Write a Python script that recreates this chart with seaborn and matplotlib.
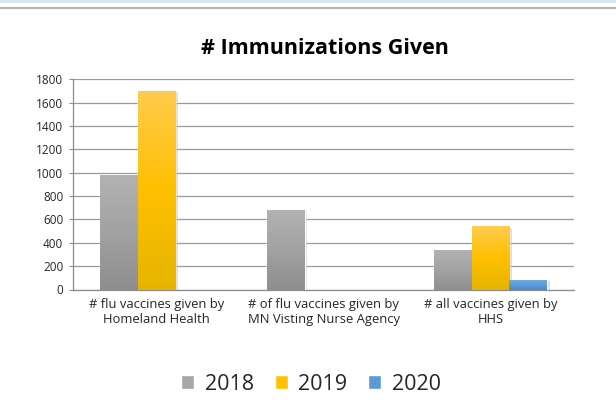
import numpy as np
import pandas as pd
import matplotlib
matplotlib.use("Agg")
import matplotlib.pyplot as plt
import matplotlib.patheffects as pe
from matplotlib.colors import LinearSegmentedColormap
import seaborn as sns

# Chart data
categories = [
    "# flu vaccines given by\nHomeland Health",
    "# of flu vaccines given by\nMN Visting Nurse Agency",
    "# all vaccines given by\nHHS",
]
years = ["2018", "2019", "2020"]
values_2018 = [980, 680, 335]
values_2019 = [1700, np.nan, 540]
values_2020 = [np.nan, np.nan, 85]
y_ticks = [0, 200, 400, 600, 800, 1000, 1200, 1400, 1600, 1800]

df = pd.DataFrame({
    "category": categories * 3,
    "year": [y for y in years for _ in categories],
    "count": values_2018 + values_2019 + values_2020,
})

# Flat colours (legend) and vertical gradients (bars), top -> bottom
flat = {"2018": "#a6a6a6", "2019": "#ffc000", "2020": "#5b9bd5"}
grads = {
    "2018": ["#b2b2b2", "#a2a2a2", "#8e8e8e"],
    "2019": ["#ffcb4c", "#ffc000", "#e6b400"],
    "2020": ["#72aae0", "#5b9bd5", "#4a88c8"],
}

sns.set_theme(style="white")
font = ["Open Sans", "DejaVu Sans"]
plt.rcParams["font.family"] = font

fig = plt.figure(figsize=(6.16, 4.16), dpi=100)
fig.patch.set_facecolor("white")

# Header strip along the top edge
fig.add_artist(plt.Rectangle((0, 1 - 3 / 416), 1, 3 / 416, transform=fig.transFigure,
                             color="#dce6f2", lw=0))
fig.add_artist(plt.Line2D([0, 1], [1 - 7.8 / 416] * 2, transform=fig.transFigure,
                          color="#b4b4b4", lw=1.6))

ax = fig.add_axes([73 / 616, 1 - 289.5 / 416, 501 / 616, 210.2 / 416])
sns.barplot(data=df, x="category", y="count", hue="year", hue_order=years,
            order=categories, palette=flat, width=0.675, gap=0, errorbar=None,
            saturation=1, ax=ax, legend=True, zorder=3)

# Paint each bar with its gradient, clipped to the bar shape
for container, yr in zip(ax.containers, years):
    cmap = LinearSegmentedColormap.from_list(yr, grads[yr])
    for bar in container:
        h = bar.get_height()
        if not np.isfinite(h) or h <= 0:
            continue
        x0 = bar.get_x()
        w = bar.get_width()
        bar.set_path_effects([pe.SimplePatchShadow(offset=(2, -1), shadow_rgbFace="#c8c8c8", alpha=0.6),
                              pe.Normal()])
        img = ax.imshow(np.linspace(0, 1, 64).reshape(-1, 1), cmap=cmap, aspect="auto",
                        extent=(x0, x0 + w, 0, h), origin="upper", zorder=3.5)
        img.set_clip_path(bar)

ax.set_xlim(-0.5, 2.5)
ax.set_ylim(0, 1800)
ax.set_yticks(y_ticks)
ax.set_yticklabels([str(t) for t in y_ticks], fontsize=8.5)
ax.tick_params(axis="y", which="major", length=3, width=0.8, color="#8c8c8c",
               direction="out", left=True, pad=4)
ax.tick_params(axis="x", length=0, pad=6, labelsize=9.4)
ax.yaxis.grid(True, color="#9a9a9a", lw=0.9, zorder=0)
ax.set_axisbelow(True)
for lab in ax.get_xticklabels():
    lab.set_linespacing(1.25)
for side in ("top", "right"):
    ax.spines[side].set_visible(False)
for side in ("left", "bottom"):
    ax.spines[side].set_color("#8c8c8c")
    ax.spines[side].set_linewidth(0.9)
ax.set_xlabel("")
ax.set_ylabel("")

handles, labels = ax.get_legend_handles_labels()
ax.get_legend().remove()
fig.legend(handles, labels, loc="center", bbox_to_anchor=(311 / 616, 1 - 384 / 416), ncol=3,
           frameon=False, fontsize=15.5, handlelength=0.6, handleheight=0.6,
           handletextpad=0.5, columnspacing=0.95)

fig.text(325 / 616, 1 - 48 / 416, "# Immunizations Given", ha="center", va="center",
         fontsize=15.5, fontweight="bold", color="black")

fig.savefig("out.png", dpi=100, facecolor="white")
